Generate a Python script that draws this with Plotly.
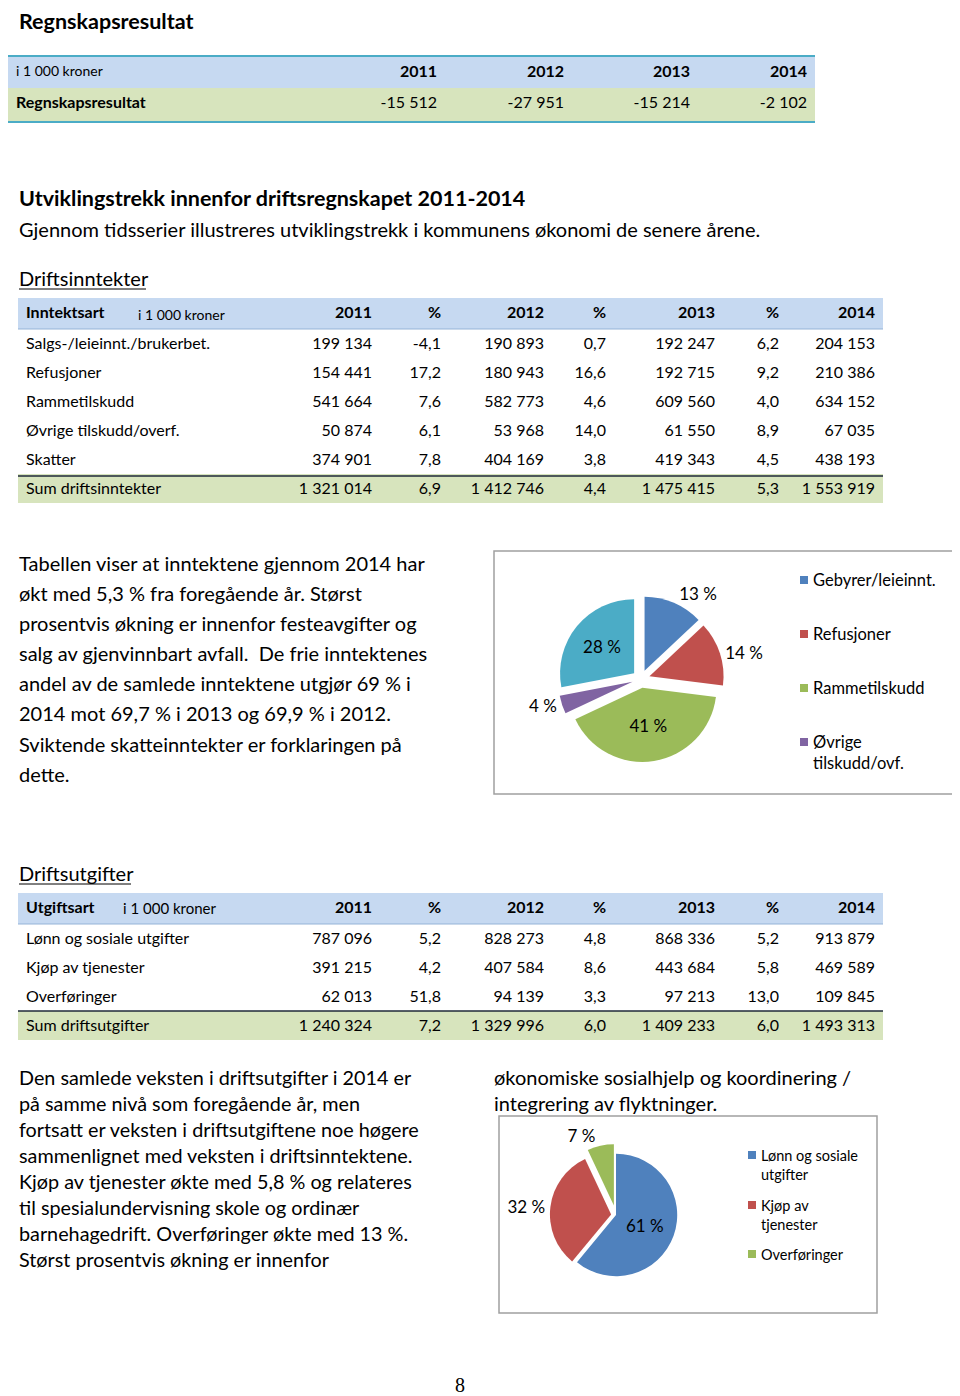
import plotly.graph_objects as go

# page body has an 8px margin: figure is sized/offset so content lands on reference pixels
OFF = 8
W, H = 960 - OFF, 1396 - OFF
FONT = "Lato"
BLUE_HDR = "#c6d9f1"
GREEN_ROW = "#d7e4bd"

# ---------------- data ----------------
res_years = ["2011", "2012", "2013", "2014"]
res_values = [-15512, -27951, -15214, -2102]

inc_labels = ["Salgs-/leieinnt./brukerbet.", "Refusjoner", "Rammetilskudd",
              "Øvrige tilskudd/overf.", "Skatter", "Sum driftsinntekter"]
inc_2011 = [199134, 154441, 541664, 50874, 374901, 1321014]
inc_p12 = [-4.1, 17.2, 7.6, 6.1, 7.8, 6.9]
inc_2012 = [190893, 180943, 582773, 53968, 404169, 1412746]
inc_p13 = [0.7, 16.6, 4.6, 14.0, 3.8, 4.4]
inc_2013 = [192247, 192715, 609560, 61550, 419343, 1475415]
inc_p14 = [6.2, 9.2, 4.0, 8.9, 4.5, 5.3]
inc_2014 = [204153, 210386, 634152, 67035, 438193, 1553919]

exp_labels = ["Lønn og sosiale utgifter", "Kjøp av tjenester", "Overføringer",
              "Sum driftsutgifter"]
exp_2011 = [787096, 391215, 62013, 1240324]
exp_p12 = [5.2, 4.2, 51.8, 7.2]
exp_2012 = [828273, 407584, 94139, 1329996]
exp_p13 = [4.8, 8.6, 3.3, 6.0]
exp_2013 = [868336, 443684, 97213, 1409233]
exp_p14 = [5.2, 5.8, 13.0, 6.0]
exp_2014 = [913879, 469589, 109845, 1493313]

pie1_labels = ["Gebyrer/leieinnt.", "Refusjoner", "Rammetilskudd",
               "Øvrige tilskudd/ovf.", "Skatter"]
pie1_share = [13, 14, 41, 4, 28]
pie1_colors = ["#4f81bd", "#c0504d", "#9bbb59", "#8064a2", "#4bacc6"]

pie2_labels = ["Lønn og sosiale utgifter", "Kjøp av tjenester", "Overføringer"]
pie2_share = [61, 32, 7]
pie2_colors = ["#4f81bd", "#c0504d", "#9bbb59"]


# ---------------- helpers ----------------
def px(x):
    return (x - OFF) / W


def py(y):
    return 1 - (y - OFF) / H


def dpx(x):
    return min(1.0, max(0.0, px(x)))


def dpy(y):
    return min(1.0, max(0.0, py(y)))


def fnum(v):
    return f"{v:,}".replace(",", " ")


def fpct(v):
    return f"{v:.1f}".replace(".", ",")


annotations = []
shapes = []


def txt(x, y, s, size=19, anchor="left", family=FONT, color="black", yanchor="middle"):
    annotations.append(dict(x=px(x), y=py(y), xref="paper", yref="paper", text=s,
                            showarrow=False, xanchor=anchor, yanchor=yanchor,
                            font=dict(size=size, color=color, family=family)))


def hline(x0, x1, y, color, width):
    shapes.append(dict(type="line", xref="paper", yref="paper", x0=px(x0), x1=px(x1),
                       y0=py(y), y1=py(y), line=dict(color=color, width=width)))


def rect(x0, y0, x1, y1, line_color=None, fill=None, width=1, layer="above"):
    shapes.append(dict(type="rect", xref="paper", yref="paper", x0=px(x0), x1=px(x1),
                       y0=py(y1), y1=py(y0), layer=layer,
                       line=dict(color=line_color or "rgba(0,0,0,0)", width=width if line_color else 0),
                       fillcolor=fill or "rgba(0,0,0,0)"))


fig = go.Figure()

# ---------------- table 1: Regnskapsresultat ----------------
fig.add_trace(go.Table(
    domain=dict(x=[dpx(8), dpx(815)], y=[dpy(121), dpy(57)]),
    columnwidth=[307, 130, 127, 126, 117],
    header=dict(values=["i 1 000 kroner"] + res_years,
                fill_color=BLUE_HDR, line=dict(width=0), height=31,
                align=["left", "right", "right", "right", "right"],
                font=dict(family=FONT, size=[14, 16, 16, 16, 16], color="black",
                          weight=["normal", "bold", "bold", "bold", "bold"])),
    cells=dict(values=[["Regnskapsresultat"]] + [[fnum(v)] for v in res_values],
               fill_color=GREEN_ROW, line=dict(width=0), height=33,
               align=["left", "right", "right", "right", "right"],
               font=dict(family=FONT, size=16, color="black",
                         weight=["bold", "normal", "normal", "normal", "normal"])),
))
rect(7, 57, 8, 121, fill=GREEN_ROW, layer="below")
hline(7, 815, 56, "#4bacc6", 2)
hline(7, 815, 122, "#4bacc6", 2)

# ---------------- table 2: Driftsinntekter ----------------
col_w = [252, 110, 69, 103, 62, 109, 64, 96]
aligns = ["left"] + ["right"] * 7
hdr_cols = ["2011", "%", "2012", "%", "2013", "%", "2014"]


def fills(n_rows):
    return [["white"] * (n_rows - 1) + [GREEN_ROW]] * 8


fig.add_trace(go.Table(
    domain=dict(x=[dpx(18), dpx(883)], y=[dpy(504), dpy(298)]),
    columnwidth=col_w,
    header=dict(values=["Inntektsart"] + hdr_cols,
                fill_color=BLUE_HDR, line=dict(width=0), height=31, align=aligns,
                font=dict(family=FONT, size=16, color="black", weight="bold")),
    cells=dict(values=[inc_labels,
                       [fnum(v) for v in inc_2011], [fpct(v) for v in inc_p12],
                       [fnum(v) for v in inc_2012], [fpct(v) for v in inc_p13],
                       [fnum(v) for v in inc_2013], [fpct(v) for v in inc_p14],
                       [fnum(v) for v in inc_2014]],
               fill_color=fills(len(inc_labels)), line=dict(width=0), height=29, align=aligns,
               font=dict(family=FONT, size=16, color="black")),
))
txt(136, 314, "i 1 000 kroner", size=14)
hline(18, 883, 329, "#95b3d7", 1)
hline(18, 883, 476, "#1f2a3a", 1.5)

# ---------------- table 3: Driftsutgifter ----------------
fig.add_trace(go.Table(
    domain=dict(x=[dpx(18), dpx(883)], y=[dpy(1041), dpy(893)]),
    columnwidth=col_w,
    header=dict(values=["Utgiftsart"] + hdr_cols,
                fill_color=BLUE_HDR, line=dict(width=0), height=31, align=aligns,
                font=dict(family=FONT, size=16, color="black", weight="bold")),
    cells=dict(values=[exp_labels,
                       [fnum(v) for v in exp_2011], [fpct(v) for v in exp_p12],
                       [fnum(v) for v in exp_2012], [fpct(v) for v in exp_p13],
                       [fnum(v) for v in exp_2013], [fpct(v) for v in exp_p14],
                       [fnum(v) for v in exp_2014]],
               fill_color=fills(len(exp_labels)), line=dict(width=0), height=29, align=aligns,
               font=dict(family=FONT, size=16, color="black")),
))
txt(121, 908, "i 1 000 kroner", size=15)
hline(18, 883, 924, "#95b3d7", 1)
hline(18, 883, 1011, "#1f2a3a", 1.5)

# ---------------- pie 1: Driftsinntekter 2014 ----------------
fig.add_trace(go.Pie(
    values=pie1_share, labels=pie1_labels, sort=False, direction="clockwise", rotation=0,
    marker=dict(colors=pie1_colors, line=dict(color="white", width=0)),
    pull=[0.12] * 5,
    text=[f"{v} %" for v in pie1_share], textinfo="text",
    textposition=["outside", "outside", "inside", "outside", "inside"],
    textfont=dict(family=FONT, size=17, color="black"),
    insidetextorientation="horizontal",
    domain=dict(x=[dpx(558), dpx(724)], y=[dpy(762), dpy(596)]),
    showlegend=False, hoverinfo="skip",
))
rect(494, 551, 956, 794, line_color="#a0a0a0", width=1.5)
leg1 = [(580, ["Gebyrer/leieinnt."]), (634, ["Refusjoner"]), (688, ["Rammetilskudd"]),
        (742, ["Øvrige", "tilskudd/ovf."])]
for i, (yy, lines) in enumerate(leg1):
    rect(800, yy - 4, 808, yy + 4, fill=pie1_colors[i])
    for j, ln in enumerate(lines):
        txt(811, yy + j * 21, ln, size=16.5)

# ---------------- pie 2: Driftsutgifter 2014 ----------------
fig.add_trace(go.Pie(
    values=pie2_share, labels=pie2_labels, sort=False, direction="clockwise", rotation=0,
    marker=dict(colors=pie2_colors, line=dict(color="white", width=0)),
    pull=[0, 0.08, 0.16],
    text=[f"{v} %" for v in pie2_share], textinfo="text",
    textposition=["inside", "outside", "outside"],
    textfont=dict(family=FONT, size=17, color="black"),
    insidetextorientation="horizontal",
    domain=dict(x=[dpx(545), dpx(687)], y=[dpy(1286), dpy(1144)]),
    showlegend=False, hoverinfo="skip",
))
rect(499, 1116, 877, 1313, line_color="#a0a0a0", width=1.5)
leg2 = [(1155, ["Lønn og sosiale", "utgifter"]), (1205, ["Kjøp av", "tjenester"]),
        (1254, ["Overføringer"])]
for i, (yy, lines) in enumerate(leg2):
    rect(748, yy - 4, 756, yy + 4, fill=pie2_colors[i])
    for j, ln in enumerate(lines):
        txt(759, yy + j * 19, ln, size=14.5)

# ---------------- text ----------------
txt(17, 21, "<b>Regnskapsresultat</b>", size=21.5)
txt(17, 198, "<b>Utviklingstrekk innenfor driftsregnskapet 2011-2014</b>", size=21.5)
txt(17, 229, "Gjennom tidsserier illustreres utviklingstrekk i kommunens økonomi de senere årene.", size=20)
txt(17, 278, "Driftsinntekter", size=20)
hline(19, 146, 289, "black", 1)
txt(17, 873, "Driftsutgifter", size=20)
hline(19, 131, 884, "black", 1)

para1 = ["Tabellen viser at inntektene gjennom 2014 har",
         "økt med 5,3 % fra foregående år. Størst",
         "prosentvis økning er innenfor festeavgifter og",
         "salg av gjenvinnbart avfall.  De frie inntektenes",
         "andel av de samlede inntektene utgjør 69 % i",
         "2014 mot 69,7 % i 2013 og 69,9 % i 2012.",
         "Sviktende skatteinntekter er forklaringen på",
         "dette."]
for i, ln in enumerate(para1):
    txt(17, 563 + i * 30.1, ln, size=20)

para2 = ["Den samlede veksten i driftsutgifter i 2014 er",
         "på samme nivå som foregående år, men",
         "fortsatt er veksten i driftsutgiftene noe høgere",
         "sammenlignet med veksten i driftsinntektene.",
         "Kjøp av tjenester økte med 5,8 % og relateres",
         "til spesialundervisning skole og ordinær",
         "barnehagedrift. Overføringer økte med 13 %.",
         "Størst prosentvis økning er innenfor"]
for i, ln in enumerate(para2):
    txt(17, 1077 + i * 26, ln, size=19.8)

txt(492, 1077, "økonomiske sosialhjelp og koordinering /", size=20)
txt(492, 1103, "integrering av flyktninger.", size=20)

txt(460, 1385, "8", size=20, anchor="center", family="Liberation Serif")

fig.update_layout(width=W, height=H, margin=dict(l=0, r=0, t=0, b=0),
                  paper_bgcolor="white", plot_bgcolor="white",
                  annotations=annotations, shapes=shapes, showlegend=False)

fig.write_html("out.html")
